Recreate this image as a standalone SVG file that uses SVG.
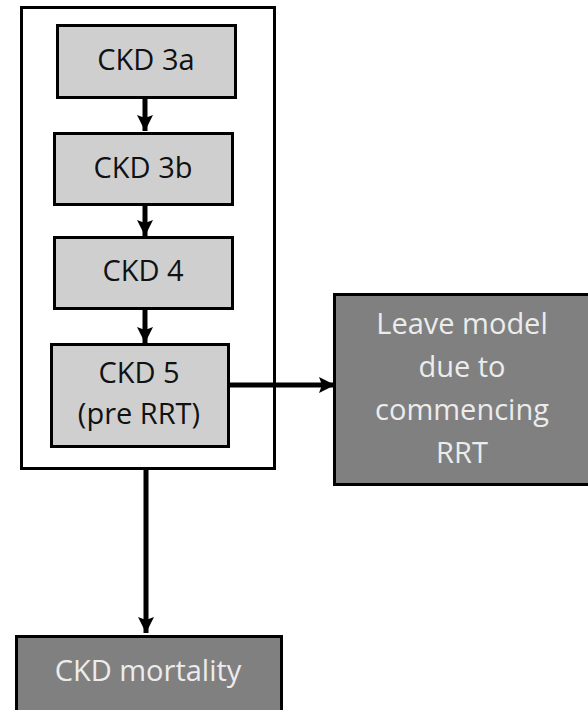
<svg xmlns="http://www.w3.org/2000/svg" width="588" height="710" viewBox="0 0 588 710">
<style>
.light{fill:#d0cfd0;stroke:#000;stroke-width:3}
.dark{fill:#808080;stroke:#000;stroke-width:3}
.frame{fill:#fff;stroke:#000;stroke-width:3}
.t{font-family:"Open Sans","Liberation Sans",sans-serif;font-size:29px;text-anchor:middle}
.tl{fill:#111}
.td{fill:#ececec}
.conn{stroke:#000;stroke-width:5;fill:none}
</style>
<defs>
<marker id="ah" markerUnits="userSpaceOnUse" markerWidth="18" markerHeight="18" viewBox="0 0 18 18" refX="16" refY="9" orient="auto">
<path d="M0,1 L16,9 L0,17 L3,9 Z" fill="#000"/>
</marker>
</defs>
<rect class="frame" x="21.5" y="7.5" width="253" height="461"/>
<g id="connectors">
<line class="conn" x1="145" y1="97" x2="145" y2="131" marker-end="url(#ah)"/>
<line class="conn" x1="145" y1="204" x2="145" y2="236" marker-end="url(#ah)"/>
<line class="conn" x1="145" y1="308" x2="145" y2="343" marker-end="url(#ah)"/>
<line class="conn" x1="228" y1="385" x2="335" y2="385" marker-end="url(#ah)"/>
<line class="conn" x1="146" y1="469" x2="146" y2="633" marker-end="url(#ah)"/>
</g>
<g id="ckd3a">
<rect class="light" x="57.5" y="25.5" width="178" height="72"/>
<text class="t tl" x="146" y="70">CKD 3a</text>
</g>
<g id="ckd3b">
<rect class="light" x="54.5" y="133.5" width="178" height="71"/>
<text class="t tl" x="143" y="178">CKD 3b</text>
</g>
<g id="ckd4">
<rect class="light" x="54.5" y="237.5" width="178" height="71"/>
<text class="t tl" x="143" y="281">CKD 4</text>
</g>
<g id="ckd5">
<rect class="light" x="51.5" y="344.5" width="177" height="102"/>
<text class="t tl" x="139" y="383">CKD 5</text>
<text class="t tl" x="139" y="424">(pre RRT)</text>
</g>
<g id="leave">
<rect class="dark" x="334.5" y="294.5" width="255" height="190"/>
<text class="t td" x="462" y="334">Leave model</text>
<text class="t td" x="462" y="377">due to</text>
<text class="t td" x="462" y="420">commencing</text>
<text class="t td" x="462" y="463">RRT</text>
</g>
<g id="mortality">
<rect class="dark" x="16.5" y="636.5" width="265" height="80"/>
<text class="t td" x="148" y="681">CKD mortality</text>
</g>
</svg>
